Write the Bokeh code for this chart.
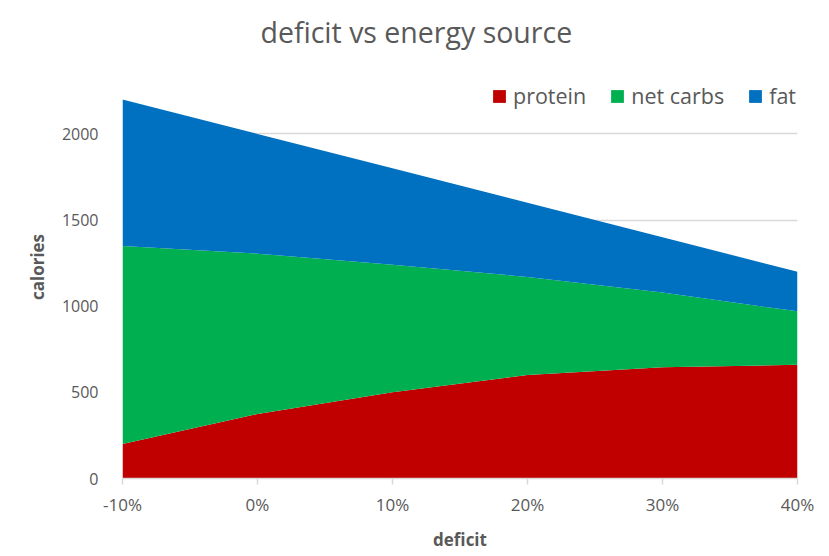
from bokeh.plotting import figure
from bokeh.models import ColumnDataSource, FixedTicker, Range1d, Legend
from bokeh.embed import file_html
from bokeh.resources import INLINE

deficit_labels = ["-10%", "0%", "10%", "20%", "30%", "40%"]
protein = [200, 375, 500, 600, 645, 660]
net_carbs = [1150, 930, 740, 570, 435, 310]
fat = [850, 695, 560, 430, 320, 230]
y_ticks = [0, 500, 1000, 1500, 2000]

series_names = ["protein", "net carbs", "fat"]
colors = ["#C00000", "#00B050", "#0070C0"]

x = list(range(len(deficit_labels)))
source = ColumnDataSource(dict(x=x, protein=protein, carbs=net_carbs, fat=fat))

FONT = "Open Sans"
GRAY = "#595959"

p = figure(width=821, height=553, output_backend="svg", toolbar_location=None,
           x_range=Range1d(0, len(x) - 1), y_range=Range1d(0, 2455),
           min_border_left=122, min_border_right=24, min_border_top=55,
           min_border_bottom=75, title="deficit vs energy source")

renderers = p.varea_stack(stackers=["protein", "carbs", "fat"], x="x",
                          color=colors, source=source)

p.title.text_font = FONT
p.title.text_font_size = "28.5px"
p.title.text_font_style = "normal"
p.title.text_color = GRAY
p.title.align = "left"
p.title.offset = 138

p.outline_line_color = None
p.background_fill_color = "white"

p.xgrid.visible = False
p.ygrid.ticker = FixedTicker(ticks=y_ticks)
p.ygrid.grid_line_color = "#D9D9D9"
p.ygrid.grid_line_width = 1.3
p.ygrid.level = "underlay"

p.yaxis.ticker = FixedTicker(ticks=y_ticks)
p.yaxis.axis_line_color = None
p.yaxis.major_tick_line_color = None
p.yaxis.minor_tick_line_color = None
p.yaxis.major_label_standoff = 18
p.yaxis.major_label_text_font = FONT
p.yaxis.major_label_text_font_size = "16px"
p.yaxis.major_label_text_color = GRAY
p.yaxis.axis_label = "calories"
p.yaxis.axis_label_text_font = FONT
p.yaxis.axis_label_text_font_size = "17px"
p.yaxis.axis_label_text_font_style = "bold"
p.yaxis.axis_label_text_color = GRAY
p.yaxis.axis_label_standoff = 10

p.xaxis.ticker = FixedTicker(ticks=x)
p.xaxis.major_label_overrides = {i: lab for i, lab in zip(x, deficit_labels)}
p.xaxis.axis_line_color = "#D9D9D9"
p.xaxis.axis_line_width = 1.5
p.xaxis.major_tick_line_color = "#D9D9D9"
p.xaxis.major_tick_line_width = 1.5
p.xaxis.major_tick_out = 6
p.xaxis.major_tick_in = 0
p.xaxis.minor_tick_line_color = None
p.xaxis.major_label_standoff = 8
p.xaxis.major_label_text_font = FONT
p.xaxis.major_label_text_font_size = "17px"
p.xaxis.major_label_text_color = GRAY
p.xaxis.axis_label = "deficit"
p.xaxis.axis_label_text_font = FONT
p.xaxis.axis_label_text_font_size = "17px"
p.xaxis.axis_label_text_font_style = "bold"
p.xaxis.axis_label_text_color = GRAY
p.xaxis.axis_label_standoff = 9

legend = Legend(items=[(name, [r]) for name, r in zip(series_names, renderers)],
                location=(369, 368), orientation="horizontal")
legend.border_line_color = None
legend.background_fill_alpha = 0
legend.padding = 0
legend.margin = 0
legend.spacing = 23
legend.glyph_width = 16
legend.glyph_height = 16
legend.label_standoff = 6
legend.label_text_font = FONT
legend.label_text_font_size = "21.5px"
legend.label_text_color = GRAY
p.add_layout(legend, "center")

open("out.html", "w").write(file_html(p, INLINE))
